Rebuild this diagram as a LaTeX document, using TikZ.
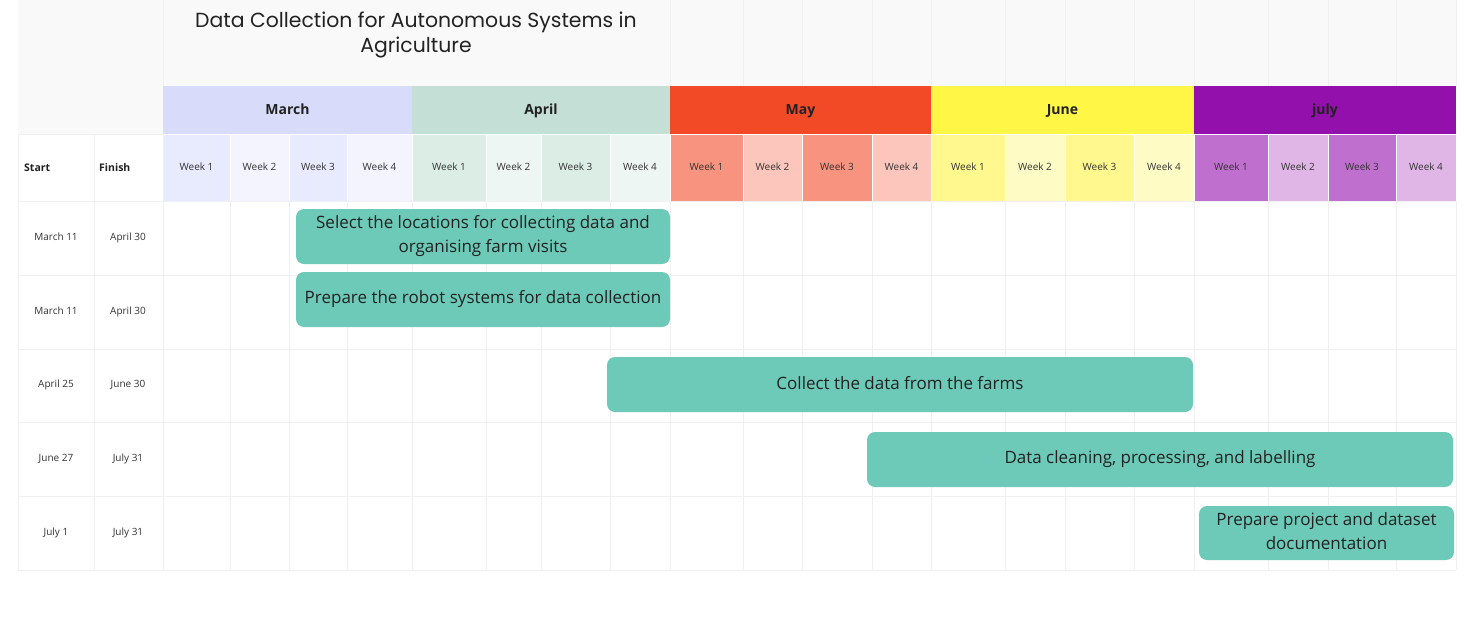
\documentclass[tikz,border=0pt]{standalone}
\usepackage{fontspec}
\setmainfont{Open Sans}
\newfontfamily\titlefont{Poppins}
\definecolor{titlebg}{HTML}{F9F9F9}
\definecolor{gridc}{HTML}{F0F0F0}
\definecolor{txt}{HTML}{222222}
\definecolor{wtxt}{HTML}{333333}
\definecolor{barc}{HTML}{6ECAB8}
\definecolor{marH}{HTML}{D8DCFA}\definecolor{marA}{HTML}{E8EAFD}\definecolor{marB}{HTML}{F3F4FE}
\definecolor{aprH}{HTML}{C4DFD6}\definecolor{aprA}{HTML}{DCEDE6}\definecolor{aprB}{HTML}{EDF6F2}
\definecolor{mayH}{HTML}{F24A27}\definecolor{mayA}{HTML}{F89380}\definecolor{mayB}{HTML}{FCC6BC}
\definecolor{junH}{HTML}{FFF645}\definecolor{junA}{HTML}{FFF88F}\definecolor{junB}{HTML}{FFFBC5}
\definecolor{julH}{HTML}{9410AC}\definecolor{julA}{HTML}{BF6FCD}\definecolor{julB}{HTML}{E0B6E6}
\begin{document}
\begin{tikzpicture}[x=1pt,y=-1pt,
  gridline/.style={draw=gridc, line width=0.8pt},
  sepline/.style={draw=white, line width=0.8pt},
  barbox/.style={fill=barc, rounded corners=8pt, inner sep=0pt, draw=none},
  bartext/.style={text=txt, font=\fontsize{17}{24}\selectfont, align=center, inner sep=0pt},
  weeklbl/.style={text=wtxt, font=\fontsize{10}{12}\selectfont, inner sep=0pt, anchor=base},
  monthlbl/.style={text=txt, font=\bfseries\fontsize{14}{16}\selectfont, inner sep=0pt, anchor=base},
  headlbl/.style={text=txt, font=\bfseries\fontsize{10.5}{12}\selectfont, inner sep=0pt, anchor=base west},
  datelbl/.style={text=wtxt, font=\fontsize{10}{12}\selectfont, inner sep=0pt, anchor=base}]
\useasboundingbox (0,0) rectangle (1466,629);
\fill[white] (0,0) rectangle (1466,629);
% title area
\fill[titlebg] (18,0) rectangle (1456,86);
\fill[titlebg] (18,86) rectangle (163,134);
\foreach \x in {670,743,802,872,931,1005,1065,1134,1194,1268,1328,1396,1456}
  \draw[gridline] (\x,0) -- (\x,86);
\draw[gridline] (163,0) -- (163,86);
\node[text=txt, font=\titlefont\fontsize{20.4}{25}\selectfont, align=center, inner sep=0pt] (title) at (416,35)
  {Data Collection for Autonomous Systems in\\Agriculture};
% month headers
\foreach \a/\b/\c/\n/\m in {163/412/marH/mar/March,412/670/aprH/apr/April,670/931/mayH/may/May,931/1194/junH/jun/June,1194/1456/julH/jul/july}{
  \fill[\c] (\a,86) rectangle (\b,134);
  \node[monthlbl] (\n) at ({(\a+\b)/2},114) {\m};
}
% week cells
\foreach \a/\b/\c/\n/\k in {
  163/230/marA/mar1/1,230/289/marB/mar2/2,289/347/marA/mar3/3,347/412/marB/mar4/4,
  412/486/aprA/apr1/1,486/541/aprB/apr2/2,541/610/aprA/apr3/3,610/670/aprB/apr4/4,
  670/743/mayA/may1/1,743/802/mayB/may2/2,802/872/mayA/may3/3,872/931/mayB/may4/4,
  931/1005/junA/jun1/1,1005/1065/junB/jun2/2,1065/1134/junA/jun3/3,1134/1194/junB/jun4/4,
  1194/1268/julA/jul1/1,1268/1328/julB/jul2/2,1328/1396/julA/jul3/3,1396/1456/julB/jul4/4}{
  \fill[\c] (\a,134) rectangle (\b,201);
  \node[weeklbl] (\n) at ({(\a+\b)/2},170.8) {Week \k};
}
\foreach \x in {230,289,347,412,486,541,610,670,743,802,872,931,1005,1065,1134,1194,1268,1328,1396}
  \draw[sepline] (\x,134) -- (\x,201);
\draw[sepline] (163,134) -- (1456,134);
% grid of task area
\foreach \x in {18,94,163}
  \draw[gridline] (\x,134) -- (\x,570);
\foreach \x in {230,289,347,412,486,541,610,670,743,802,872,931,1005,1065,1134,1194,1268,1328,1396,1456}
  \draw[gridline] (\x,201) -- (\x,570);
\draw[gridline] (18,134) -- (163,134);
\foreach \y in {201,275,349,422,496,570}
  \draw[gridline] (18,\y) -- (1456,\y);
% column headers
\node[headlbl] (start) at (24,171) {Start};
\node[headlbl] (finish) at (99,171) {Finish};
% dates
\foreach \y/\s/\f/\i in {240.8/March 11/April 30/1,314.8/March 11/April 30/2,387.8/April 25/June 30/3,461.8/June 27/July 31/4,535.8/July 1/July 31/5}{
  \node[datelbl] (s\i) at (56,\y) {\s};
  \node[datelbl] (f\i) at (128,\y) {\f};
}
% bars
\node[barbox, minimum width=374pt, minimum height=55pt] (t1) at (483,236.5) {};
\node[bartext, yshift=0.5pt] (t1txt) at (t1.center) {Select the locations for collecting data and\\organising farm visits};
\node[barbox, minimum width=374pt, minimum height=55pt] (t2) at (483,299.5) {};
\node[bartext] (t2txt) at (t2.center) {Prepare the robot systems for data collection};
\node[barbox, minimum width=586pt, minimum height=55pt] (t3) at (900,384.5) {};
\node[bartext, yshift=1pt] (t3txt) at (t3.center) {Collect the data from the farms};
\node[barbox, minimum width=586pt, minimum height=55pt] (t4) at (1160,459.5) {};
\node[bartext] (t4txt) at (t4.center) {Data cleaning, processing, and labelling};
\node[barbox, minimum width=255pt, minimum height=54pt] (t5) at (1326.5,533) {};
\node[bartext, yshift=2pt] (t5txt) at (t5.center) {Prepare project and dataset\\documentation};
\end{tikzpicture}
\end{document}
